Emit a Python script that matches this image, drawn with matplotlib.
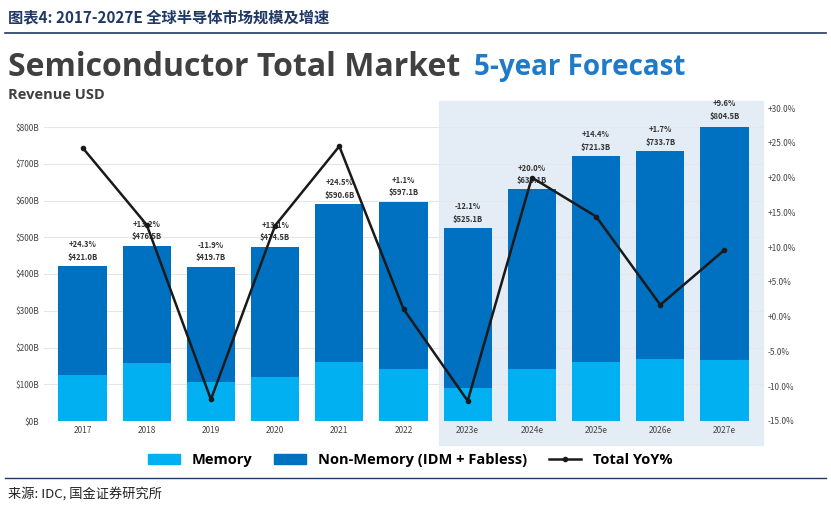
import matplotlib
matplotlib.use("Agg")
import matplotlib.pyplot as plt
from matplotlib.patches import Rectangle
from matplotlib.lines import Line2D

plt.rcParams['font.family'] = ['Noto Sans CJK SC', 'DejaVu Sans']

years = ["2017","2018","2019","2020","2021","2022","2023e","2024e","2025e","2026e","2027e"]
total = [421.0, 476.5, 419.7, 474.5, 590.6, 597.1, 525.1, 630.1, 721.3, 733.7, 804.5]
memory = [125, 158, 106, 120, 160, 141, 90, 141, 160, 169, 166]
yoy = [24.3, 13.2, -11.9, 13.1, 24.5, 1.1, -12.1, 20.0, 14.4, 1.7, 9.6]

nonmem = [t - m for t, m in zip(total, memory)]
W, H = 831, 509
fig = plt.figure(figsize=(W/100, H/100), dpi=100)
ax = fig.add_axes([44/W, 1-421/H, (763-44)/W, (421-127)/H])
x = list(range(len(years)))
c_mem = "#00b0f0"; c_non = "#0070c0"
ax.bar(x, memory, width=0.75, color=c_mem, zorder=3)
ax.bar(x, nonmem, bottom=memory, width=0.75, color=c_non, zorder=3)
ax.set_ylim(0, 800); ax.set_xlim(-0.6, 10.6)
ax.set_yticks(range(0, 801, 100))
ax.set_yticklabels([f"${v}B" for v in range(0, 801, 100)], fontsize=6, color="#444")
ax.set_xticks(x); ax.set_xticklabels(years, fontsize=6, color="#444")
ax.tick_params(length=0)
ax.grid(axis='y', color="#e6e6e6", lw=0.8, zorder=0)
for s in ax.spines.values(): s.set_visible(False)
ax.axvspan(5.55, 10.6, ymin=-0.08, ymax=1.09, color="#e4edf6", zorder=0, clip_on=False)
for i in x:
    sign = "+" if yoy[i] >= 0 else ""
    ax.text(i, total[i] + 12, f"{sign}{yoy[i]:.1f}%\n${total[i]:.1f}B", ha='center', va='bottom',
            fontsize=5.5, fontweight='bold', color="#333", linespacing=1.5, zorder=5)

ax2 = fig.add_axes([44/W, 1-421/H, (763-44)/W, (421-108)/H])
ax2.patch.set_visible(False)
ax2.set_xlim(-0.6, 10.6)
ax2.plot(x, yoy, color="#1a1a1a", lw=1.8, marker='o', ms=3, zorder=6)
ax2.set_ylim(-15, 30)
ax2.yaxis.tick_right()
ax2.set_xticks([])
ax2.set_yticks(range(-15, 31, 5))
ax2.set_yticklabels([f"{'+' if v>=0 else ''}{v:.1f}%" for v in range(-15, 31, 5)], fontsize=6, color="#444")
ax2.tick_params(length=0)
for s in ax2.spines.values(): s.set_visible(False)

fig.text(8/W, 1-17/H, "图表4: 2017-2027E 全球半导体市场规模及增速", fontsize=11, fontweight='bold',
         style='italic', color="#1f3864", va='center')
fig.add_artist(Line2D([5/W, 826/W], [1-33/H, 1-33/H], color="#1f3864", lw=1.2))
fig.text(8/W, 1-67/H, "Semiconductor Total Market", fontsize=23, fontweight='bold', color="#404040",
         va='center', family=['Open Sans', 'DejaVu Sans'])
fig.text(474/W, 1-67/H, "5-year Forecast", fontsize=20, fontweight='bold', color="#1f7ac8",
         va='center', family=['Open Sans', 'DejaVu Sans'])
fig.text(8/W, 1-95/H, "Revenue USD", fontsize=10.5, fontweight='bold', color="#404040", va='center',
         family=['Open Sans', 'DejaVu Sans'])

handles = [Rectangle((0,0),1,1,color=c_mem), Rectangle((0,0),1,1,color=c_non),
           Line2D([],[],color="#1a1a1a", lw=1.8, marker='o', ms=3)]
fig.legend(handles, ["Memory", "Non-Memory (IDM + Fabless)", "Total YoY%"], loc='center',
           bbox_to_anchor=(410/W, 1-460/H), ncol=3, frameon=False,
           prop={'weight':'bold', 'size':10.5, 'family':['Open Sans','DejaVu Sans']},
           handlelength=2.2, columnspacing=1.5)
fig.add_artist(Line2D([5/W, 826/W], [1-478/H, 1-478/H], color="#1f3864", lw=1.0))
fig.text(8/W, 1-494/H, "来源: IDC, 国金证券研究所", fontsize=9.5, color="#222", va='center')
fig.savefig("out.png", dpi=100)
